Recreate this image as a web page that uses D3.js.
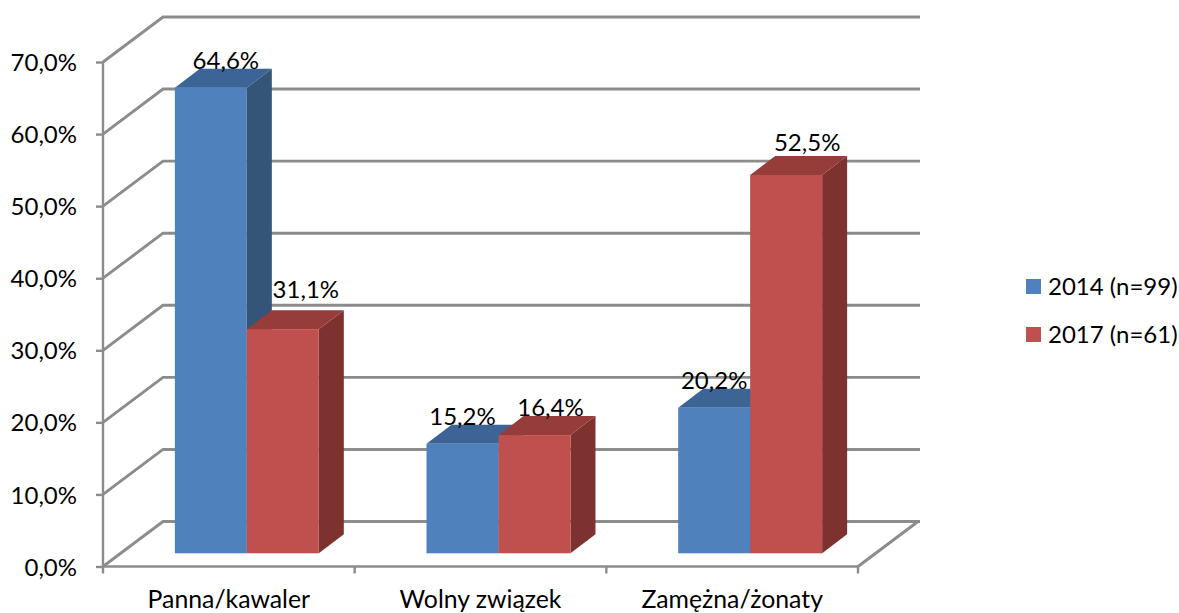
<!DOCTYPE html>
<html>
<head>
<meta charset="utf-8">
<script src="https://cdn.jsdelivr.net/npm/d3@7"></script>
<style>
  html, body { margin: 0; padding: 0; background: #fff; }
  text { font-family: Lato, "Open Sans", sans-serif; font-size: 24px; fill: #000; }
  .axis text { font-size: 24px; }
  .x-labels text { font-size: 24.8px; }
  .grid { fill: none; stroke: #8c8c8c; stroke-width: 2.9px; }
  .axis path, .axis line { stroke: #8c8c8c; stroke-width: 2.4px; }
</style>
</head>
<body>
<div id="chart-area"></div>
<script>
// Data
var categories = ["Panna/kawaler", "Wolny związek", "Zamężna/żonaty"];
var seriesNames = ["2014 (n=99)", "2017 (n=61)"];
var values2014 = [64.6, 15.2, 20.2];
var values2017 = [31.1, 16.4, 52.5];
var yTicks = [0, 10, 20, 30, 40, 50, 60, 70];

var width = 1179, height = 613;

var svg = d3.select("#chart-area").append("svg")
  .attr("width", width)
  .attr("height", height)
  .style("display", "block");

// Front plane of the 3d box
var x = d3.scaleBand().domain(categories).range([103, 858])
  .paddingInner(0.428).paddingOuter(0.214);
var y = d3.scaleLinear().domain([0, 70]).range([566.5, 62]);
var xSeries = d3.scaleBand().domain(seriesNames).range([0, x.bandwidth()]);

var depth = { x: 60, y: -45 };     // wall offset
var barGap = { x: 18, y: -13.2 };  // bar front behind the axis plane
var barSide = { x: 25, y: -19 };   // bar depth

var colors = {
  "2014 (n=99)": { front: "#4f81bd", top: "#3c6494", side: "#345578" },
  "2017 (n=61)": { front: "#c0504d", top: "#963c3a", side: "#7e3230" }
};

// Gridlines go back along the side wall, then across the back wall
svg.append("g").selectAll("path")
  .data(yTicks)
  .enter().append("path")
  .attr("class", "grid")
  .attr("d", function(d) {
    var p = d3.path();
    p.moveTo(x.range()[0], y(d));
    p.lineTo(x.range()[0] + depth.x, y(d) + depth.y);
    p.lineTo(920, y(d) + depth.y);
    return p.toString();
  });

// Floor edge on the right
svg.append("line")
  .attr("class", "grid")
  .attr("x1", x.range()[1]).attr("y1", y(0))
  .attr("x2", x.range()[1] + depth.x).attr("y2", y(0) + depth.y);

// Axes
var comma = d3.formatLocale({ decimal: ",", thousands: " ", grouping: [3], currency: ["", ""] });
var yAxisCall = d3.axisLeft(y)
  .tickValues(yTicks)
  .tickSize(7)
  .tickPadding(19)
  .tickFormat(function(d) { return comma.format(".1f")(d) + "%"; });

var yAxis = svg.append("g")
  .attr("class", "axis")
  .attr("transform", "translate(103,0)")
  .call(yAxisCall);
yAxis.select(".domain").attr("d", "M0," + y(70) + "V" + y(0));
yAxis.selectAll("text").attr("dy", "0.36em");

var xLabels = d3.axisBottom(x).tickSize(0).tickPadding(24);
var xAxis = svg.append("g")
  .attr("class", "axis x-labels")
  .attr("transform", "translate(0," + y(0) + ")")
  .call(xLabels);
xAxis.select(".domain").attr("d", "M" + x.range()[0] + ",0H" + x.range()[1]);

// Ticks sit between the categories, so they come from a plain linear scale
var xEdges = d3.scaleLinear().domain([0, categories.length]).range(x.range());
xAxis.selectAll(".edge")
  .data(d3.range(categories.length + 1))
  .enter().append("line")
  .attr("class", "edge")
  .attr("x1", function(d) { return xEdges(d); })
  .attr("x2", function(d) { return xEdges(d); })
  .attr("y1", 0)
  .attr("y2", 7);

// Bars
var rows = [];
categories.forEach(function(c, i) {
  rows.push({ cat: c, series: seriesNames[0], value: values2014[i] });
  rows.push({ cat: c, series: seriesNames[1], value: values2017[i] });
});

function poly(pts) {
  return pts.map(function(p) { return p.join(","); }).join(" ");
}

var bars = svg.append("g").selectAll("g")
  .data(rows)
  .enter().append("g");

bars.each(function(d) {
  var g = d3.select(this);
  var x0 = x(d.cat) + xSeries(d.series) + barGap.x;
  var x1 = x0 + xSeries.bandwidth();
  var yTop = y(d.value) + barGap.y;
  var yBase = y(0) + barGap.y;
  var c = colors[d.series];

  g.append("polygon")
    .attr("fill", c.side)
    .attr("points", poly([[x1, yTop], [x1 + barSide.x, yTop + barSide.y],
      [x1 + barSide.x, yBase + barSide.y], [x1, yBase]]));
  g.append("polygon")
    .attr("fill", c.top)
    .attr("points", poly([[x0, yTop], [x0 + barSide.x, yTop + barSide.y],
      [x1 + barSide.x, yTop + barSide.y], [x1, yTop]]));
  g.append("rect")
    .attr("fill", c.front)
    .attr("x", x0)
    .attr("y", yTop)
    .attr("width", x1 - x0)
    .attr("height", yBase - yTop);
});

// Value labels, the nudges follow where the original placed each one
var labelNudgeX = [15, 23, 0, 16, 0, 21];
var labelNudgeY = [0, -12, 0, 0, 0, -5];
svg.append("g").selectAll("text")
  .data(rows)
  .enter().append("text")
  .attr("text-anchor", "middle")
  .attr("x", function(d, i) {
    return x(d.cat) + xSeries(d.series) + barGap.x + xSeries.bandwidth() / 2 + labelNudgeX[i];
  })
  .attr("y", function(d, i) { return y(d.value) + barGap.y + barSide.y + labelNudgeY[i]; })
  .text(function(d) { return comma.format(".1f")(d.value) + "%"; });

// Legend
var legend = svg.append("g").selectAll("g")
  .data(seriesNames)
  .enter().append("g")
  .attr("transform", function(d, i) { return "translate(1026," + (279 + i * 48) + ")"; });

legend.append("rect")
  .attr("width", 15)
  .attr("height", 15)
  .attr("fill", function(d) { return colors[d].front; });

legend.append("text")
  .attr("x", 22)
  .attr("y", 16)
  .text(function(d) { return d; });
</script>
</body>
</html>
